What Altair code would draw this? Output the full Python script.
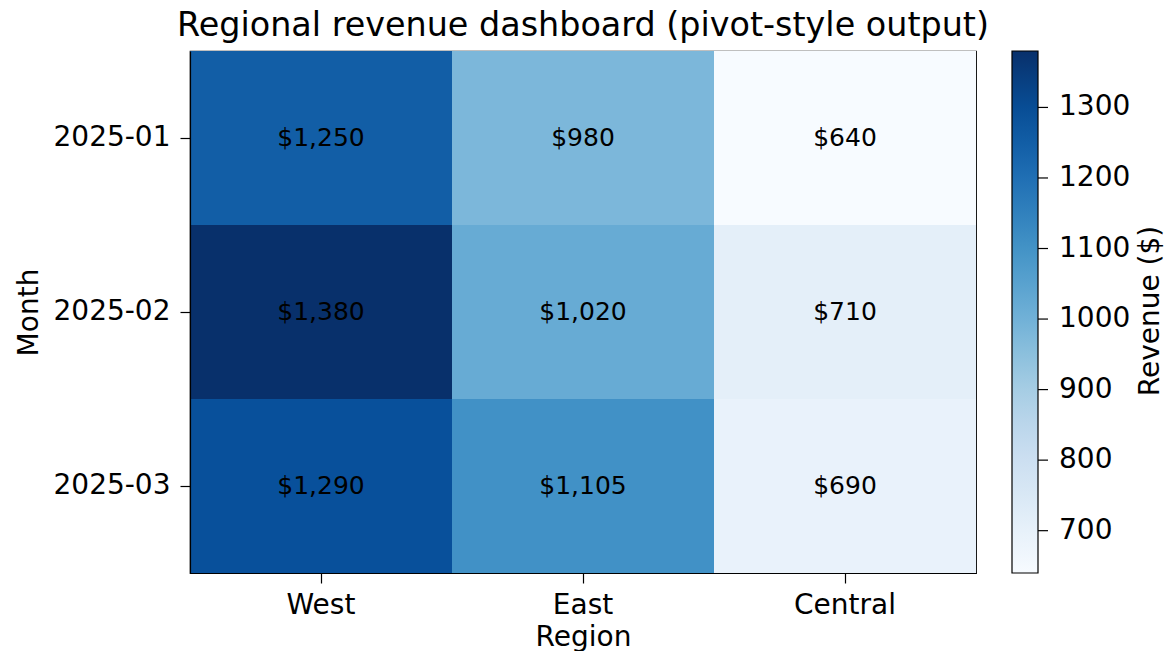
import altair as alt
import pandas as pd

months = ["2025-01", "2025-02", "2025-03"]
regions = ["West", "East", "Central"]
revenue = [
    [1250, 980, 640],
    [1380, 1020, 710],
    [1290, 1105, 690],
]
legend_ticks = [700, 800, 900, 1000, 1100, 1200, 1300]
blues = ["#f7fbff", "#deebf7", "#c6dbef", "#9ecae1", "#6baed6",
         "#4292c6", "#2171b5", "#08519c", "#08306b"]
vmin, vmax = 640, 1380

rows = []
for i, m in enumerate(months):
    for j, r in enumerate(regions):
        v = revenue[i][j]
        rows.append({"Month": m, "Region": r, "Revenue": v, "label": f"${v:,}"})
df = pd.DataFrame(rows)

stops = [vmin + (vmax - vmin) * k / (len(blues) - 1) for k in range(len(blues))]
cscale = alt.Scale(domain=stops, range=blues, interpolate="rgb")

FONT = "DejaVu Sans"
W, H = 786, 522
CB_X = W + 36
CB_T = 26

base = alt.Chart(df)

rect = base.mark_rect().encode(
    x=alt.X("Region:N", sort=regions,
            scale=alt.Scale(paddingInner=0, paddingOuter=0),
            axis=alt.Axis(title="Region", labelAngle=0)),
    y=alt.Y("Month:N", sort=months,
            scale=alt.Scale(paddingInner=0, paddingOuter=0),
            axis=alt.Axis(title="Month")),
    color=alt.Color("Revenue:Q", scale=cscale,
                    legend=alt.Legend(type="gradient", title=None, values=legend_ticks,
                                      format="d", direction="vertical",
                                      gradientLength=H, gradientThickness=CB_T,
                                      gradientStrokeColor="black", gradientStrokeWidth=1.2,
                                      offset=36, padding=0, labelOffset=21,
                                      labelFontSize=28, labelColor="black",
                                      labelFont=FONT)),
)

text = base.mark_text(fontSize=25, font=FONT, color="black").encode(
    x=alt.X("Region:N", sort=regions),
    y=alt.Y("Month:N", sort=months, scale=alt.Scale(paddingInner=0, paddingOuter=0),
            axis=None),
    text="label:N",
)

cb_ticks = alt.Chart(pd.DataFrame({"v": legend_ticks})).mark_rule(
    color="black", strokeWidth=1.2
).encode(
    y=alt.Y("v:Q", scale=alt.Scale(domain=[vmin, vmax], nice=False, zero=False), axis=None),
    x=alt.value(CB_X + CB_T),
    x2=alt.value(CB_X + CB_T + 10),
)

cbar_title = alt.Chart(pd.DataFrame({"t": ["Revenue ($)"]})).mark_text(
    angle=270, fontSize=28, font=FONT, color="black", baseline="middle", align="center"
).encode(x=alt.value(961), y=alt.value(260), text="t:N")

chart = alt.layer(rect, text, cb_ticks, cbar_title).resolve_scale(
    y="independent"
).properties(
    width=W, height=H,
    title=alt.TitleParams("Regional revenue dashboard (pivot-style output)",
                          fontSize=33.4, font=FONT, fontWeight="normal",
                          color="black", anchor="middle", offset=8),
    autosize=alt.AutoSizeParams(type="none"),
    padding={"left": 182, "top": 43, "right": 188, "bottom": 78},
).configure_view(
    stroke="black", strokeWidth=1.2
).configure_axis(
    labelFont=FONT, labelFontSize=28, labelColor="black",
    titleFont=FONT, titleFontSize=28, titleColor="black", titleFontWeight="normal",
    domainColor="black", domainWidth=1.2, tickColor="black", tickWidth=1.2,
    tickSize=10, grid=False, labelPadding=10,
).configure_axisX(
    labelPadding=8, titlePadding=4
).configure_axisY(
    titlePadding=10
)

chart.save("out.html", embed_options={"renderer": "svg", "actions": False})
